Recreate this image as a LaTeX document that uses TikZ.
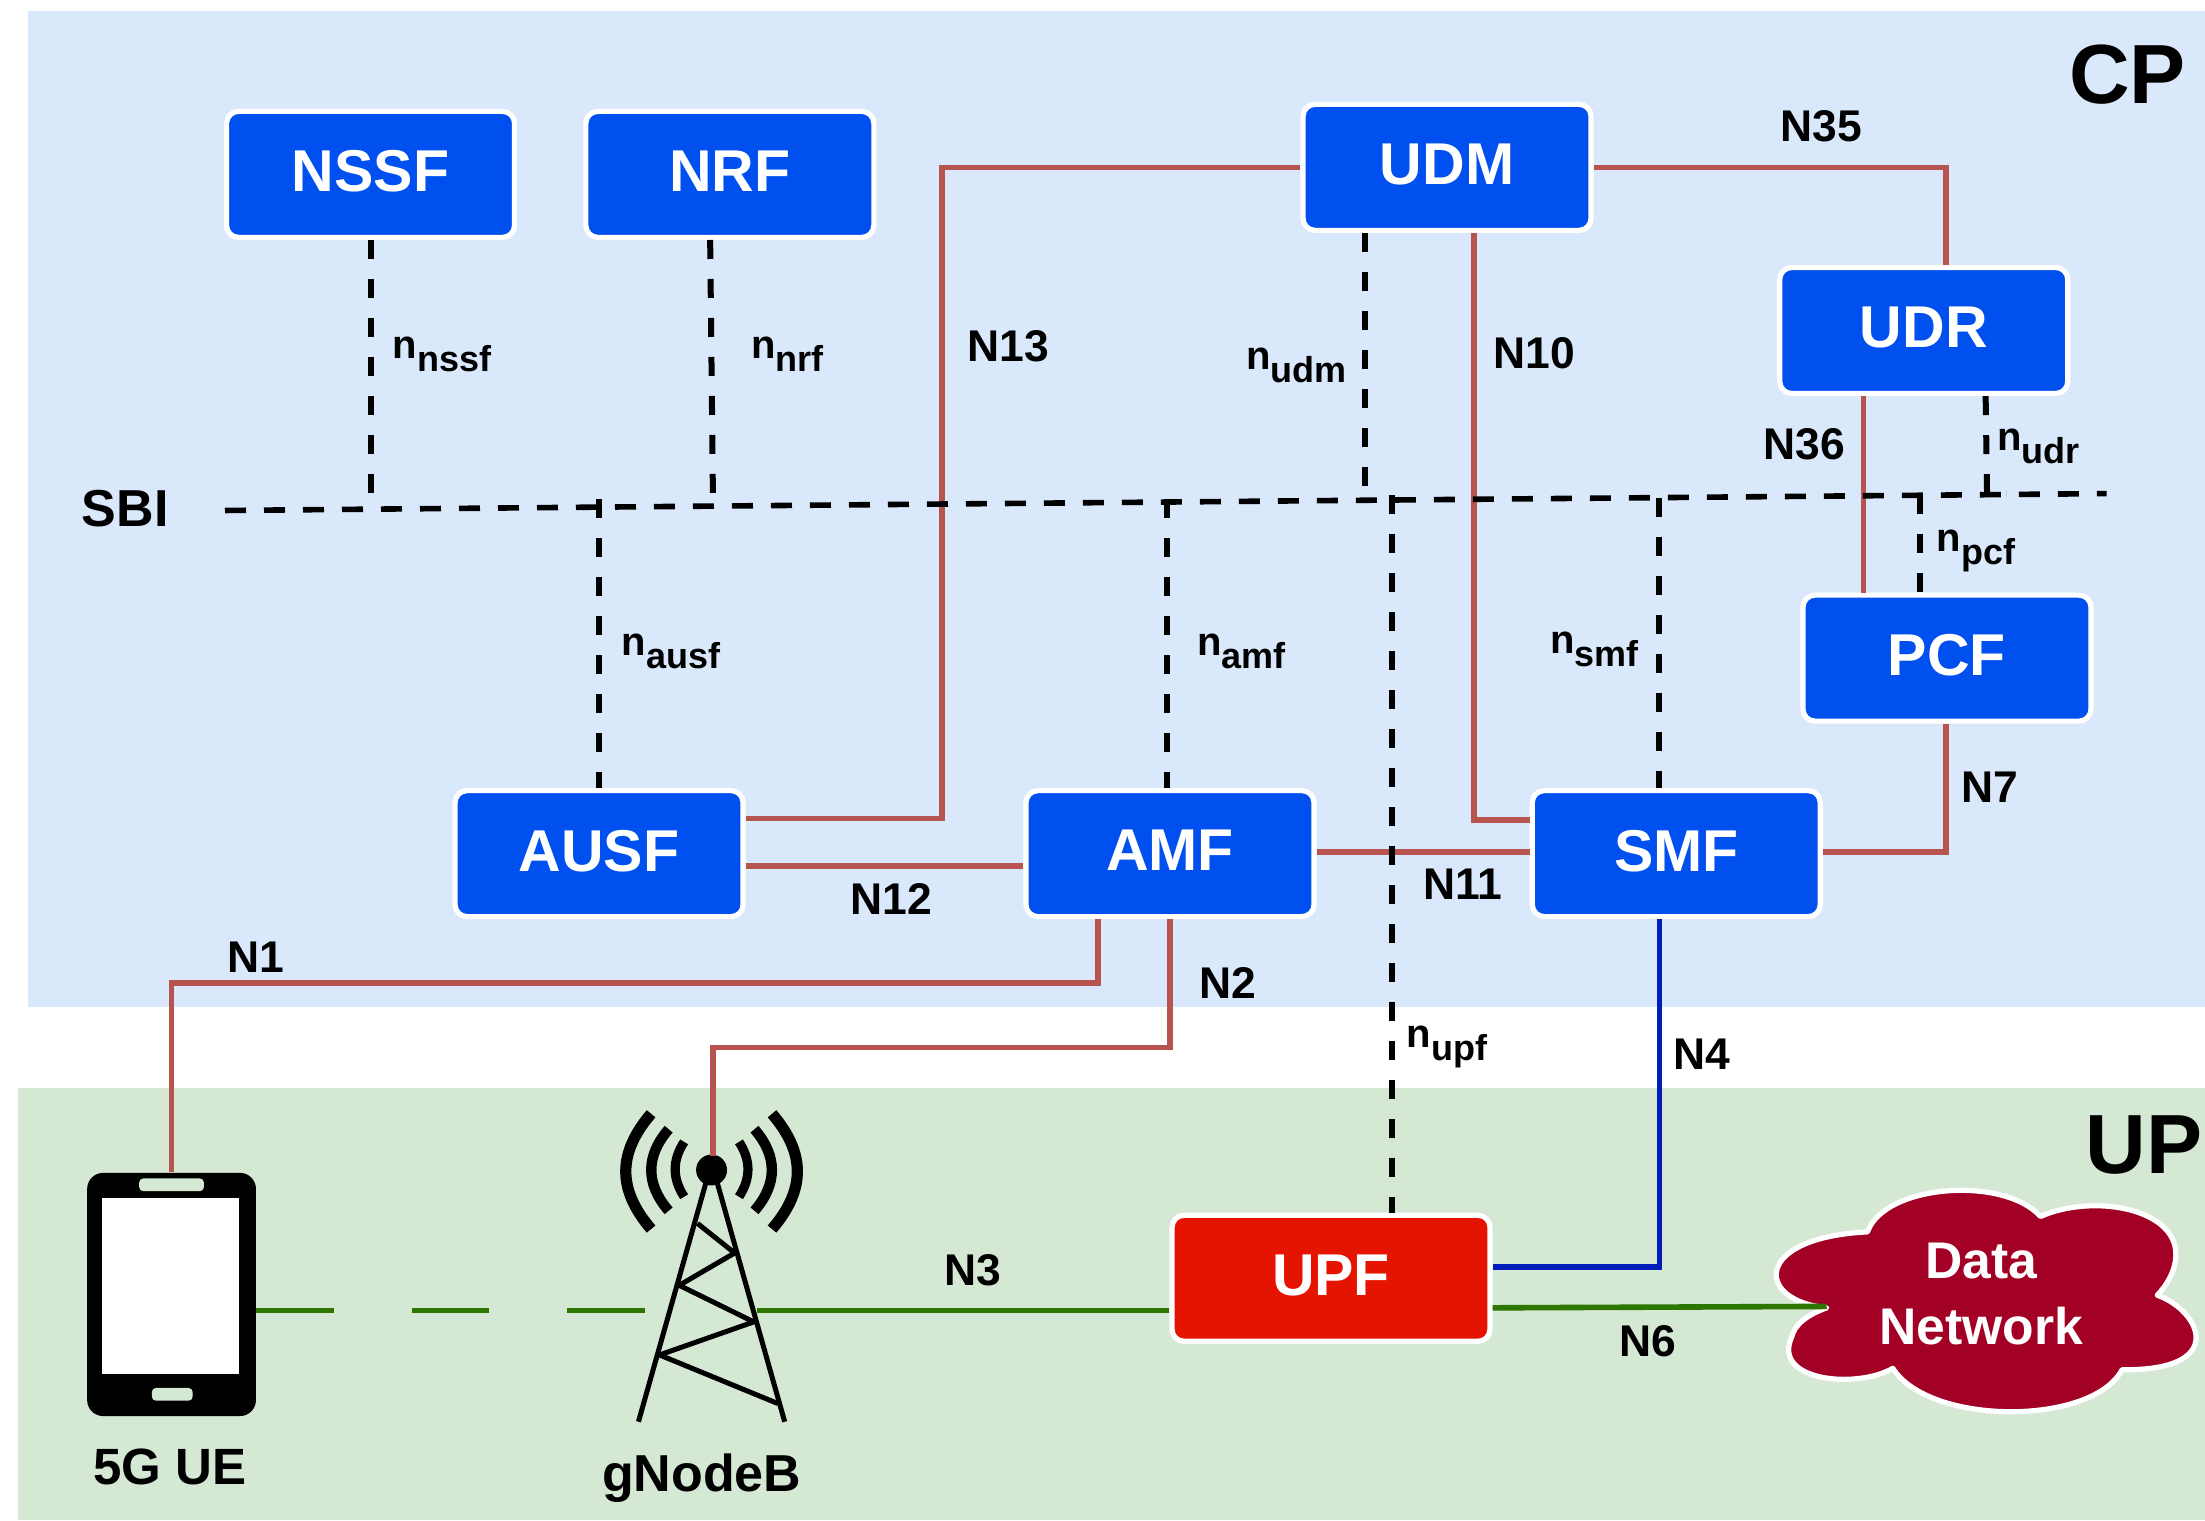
\documentclass[tikz,border=0pt]{standalone}
\usepackage{fontspec}
\setmainfont{Liberation Sans}
\newcommand{\iface}[1]{{\fontsize{20}{20}\selectfont n}\raisebox{-6.5pt}{\fontsize{18}{18}\selectfont #1}}
\definecolor{cpbg}{HTML}{DAE8FC}
\definecolor{upbg}{HTML}{D5E8D4}
\definecolor{nfblue}{HTML}{0050EF}
\definecolor{upfred}{HTML}{E51400}
\definecolor{dnred}{HTML}{A20025}
\definecolor{rline}{HTML}{B85450}
\definecolor{gline}{HTML}{2D7600}
\definecolor{bline}{HTML}{001DBC}
\tikzset{
  nfbox/.style={rectangle,rounded corners=6pt,draw=white,line width=2.6pt,fill=nfblue,text=white,
    minimum width=144pt,minimum height=63pt,inner sep=0pt,text depth=3pt,font=\fontsize{29.5}{29.5}\selectfont\bfseries},
  upfbox/.style={nfbox,fill=upfred,minimum width=159pt},
  rl/.style={draw=rline,line width=2.8pt},
  gl/.style={draw=gline,line width=2.8pt},
  bl/.style={draw=bline,line width=2.8pt},
  sb/.style={draw=black,line width=2.8pt,dash pattern=on 10.5pt off 9pt},
  sbv/.style={draw=black,line width=3pt,dash pattern=on 9.5pt off 10pt},
  lab/.style={inner sep=0pt,font=\fontsize{22.2}{22.2}\selectfont\bfseries},
  ilab/.style={inner sep=0pt,anchor=base west,font=\bfseries},
  biglab/.style={inner sep=0pt,font=\fontsize{42}{42}\selectfont\bfseries},
  caplab/.style={inner sep=0pt,font=\fontsize{25.5}{25.5}\selectfont\bfseries},
  towerline/.style={draw=black,line width=2.5pt},
}
\begin{document}
\begin{tikzpicture}[x=0.70313pt,y=-0.70313pt]
\clip (0,0) rectangle (1568,1080.9);
\fill[white] (0,0) rectangle (1568,1080.9);
\fill[cpbg] (20,8) rectangle (1568,716);
\fill[upbg] (13,774) rectangle (1568,1081);

% network functions
\node[nfbox] (nssf) at (263.5,124) {NSSF};
\node[nfbox] (nrf) at (519,124) {NRF};
\node[nfbox] (udm) at (1029,119) {UDM};
\node[nfbox] (udr) at (1368,235) {UDR};
\node[nfbox] (pcf) at (1384.5,468) {PCF};
\node[nfbox] (ausf) at (426,607) {AUSF};
\node[nfbox] (amf) at (832,607) {AMF};
\node[nfbox] (smf) at (1192,607) {SMF};
\node[upfbox] (upf) at (946.5,909) {UPF};

% phone
\node[rectangle,fill=black,rounded corners=8pt,minimum width=84.4pt,minimum height=121.6pt,inner sep=0pt] (ue) at (122,920.5) {};
\fill[white] (72.5,852) rectangle (170,977);
\fill[upbg,rounded corners=2pt] (99,838) rectangle (145,847);
\fill[upbg,rounded corners=2pt] (108,987) rectangle (137,996);

% tower
\coordinate (apex) at (506,832);
\foreach \s in {-1,1} {
  \draw[black,line width=5.6pt] ({506+\s*43},792) .. controls ({506+\s*67},820) and ({506+\s*67},846) .. ({506+\s*43},874);
  \draw[black,line width=5.2pt] ({506+\s*30.5},803) .. controls ({506+\s*47},822) and ({506+\s*47},842) .. ({506+\s*30.5},861);
  \draw[black,line width=4.6pt] ({506+\s*19.5},812) .. controls ({506+\s*28},825) and ({506+\s*28},838) .. ({506+\s*19.5},851);
}
\fill[black] (apex) circle (11);
\draw[towerline] (502,841) -- (454,1011);
\draw[towerline] (510,841) -- (558,1011);
\draw[towerline,line join=round] (496,870) -- (522.4,891) -- (483,914) -- (536,940) -- (469,963.5) -- (553,998);

% cloud
\draw[draw=white,line width=2.6pt,fill=dnred,line join=round]
  (1328,876) .. controls (1340,842) and (1425,836) .. (1451,865)
  .. controls (1490,848) and (1552,860) .. (1547,896)
  .. controls (1546,905) and (1540,915) .. (1534,921)
  .. controls (1565,932) and (1585,975) .. (1509,974)
  .. controls (1488,1014) and (1372,1014) .. (1346,973)
  .. controls (1320,988) and (1260,982) .. (1274,951)
  .. controls (1276,942) and (1285,935) .. (1299,930)
  .. controls (1248,925) and (1246,880) .. (1328,876) -- cycle;
\node[inner sep=0pt,text=white,align=center,font=\fontsize{25.8}{31}\selectfont\bfseries] (dn) at (1409,920) {Data\\[2pt]Network};
\coordinate (dnleft) at (1299,929);

% SBI bus and service interfaces
\coordinate (sbiL) at (160,363);
\coordinate (sbiR) at (1498,351);
\coordinate (busA) at (426,355);
\coordinate (busB) at (830,355);
\coordinate (busC) at (1180,354);
\coordinate (busD) at (990,352);
\coordinate (busE) at (1365,352);

% reference points
\draw[rl] (ausf.east |- 0,582) -- (670,582) -- (670,119) -- (udm.west |- 0,119);
\draw[rl] (ausf.east |- 0,616) -- (amf.west |- 0,616);
\draw[rl] (amf.east |- 0,606) -- (smf.west |- 0,606);
\draw[rl] (1048,0 |- udm.south) -- (1048,583) -- (smf.west |- 0,583);
\draw[rl] (udm.east |- 0,119) -- (1384,119) -- (1384,0 |- udr.north);
\draw[rl] (1325,0 |- udr.south) -- (1325,0 |- pcf.north);
\draw[rl] (1384,0 |- pcf.south) -- (1384,606) -- (smf.east |- 0,606);
\draw[rl] (781,0 |- amf.south) -- (781,699) -- (122,699) -- (122,0 |- ue.north);
\draw[rl] (832,0 |- amf.south) -- (832,745) -- (507,745) -- (507,822);
\draw[bl] (1180,0 |- smf.south) -- (1180,901) -- (upf.east |- 0,901);
\draw[gl] (538,932) -- (upf.west |- 0,932);
\draw[gl,dash pattern=on 38.7pt off 39pt] (ue.east |- 0,932) -- (460,932);
\draw[gl] (upf.east |- 0,930) -- (dnleft);

\draw[sb] (sbiL) -- (sbiR);
\draw[sbv] (264,0 |- nssf.south) -- (264,357);
\draw[sbv] (505,0 |- nrf.south) -- (507,355);
\draw[sbv] (busA) -- (426,0 |- ausf.north);
\draw[sbv] (busB) -- (830,0 |- amf.north);
\draw[sbv] (971,0 |- udm.south) -- (971,354);
\draw[sbv] (busD) -- (990,0 |- upf.north);
\draw[sbv] (busC) -- (1180,0 |- smf.north);
\draw[sbv] (busE) -- (1365,0 |- pcf.north);
\draw[sbv] (1412,0 |- udr.south) -- (1413,351) -- (1427,351);

% labels
\node[biglab] (cplab) at (1513,53) {CP};
\node[biglab,anchor=west] (uplab) at (1483,814) {UP};
\node[inner sep=0pt,font=\fontsize{26}{26}\selectfont\bfseries] (sbilab) at (89,362) {SBI};
\node[caplab] (uelab) at (121,1043) {5G UE};
\node[caplab,font=\fontsize{26}{26}\selectfont\bfseries] (gnblab) at (499,1051) {gNodeB};
\node[lab] (l35) at (1295,90) {N35};
\node[lab] (l13) at (717,246) {N13};
\node[lab] (l10) at (1091,251) {N10};
\node[lab] (l36) at (1283,316) {N36};
\node[lab] (l7) at (1415,560) {N7};
\node[lab] (l12) at (634,639) {N12};
\node[lab] (l11) at (1040,629) {N11};
\node[lab] (l1) at (182,681) {N1};
\node[lab] (l2) at (873,699) {N2};
\node[lab] (l4) at (1210,750) {N4};
\node[lab] (l3) at (692,903) {N3};
\node[lab] (l6) at (1172,954) {N6};
\node[ilab] (inssf) at (279,255) {\iface{nssf}};
\node[ilab] (inrf) at (534,255) {\iface{nrf}};
\node[ilab] (iudm) at (886,263) {\iface{udm}};
\node[ilab] (iudr) at (1420,320) {\iface{udr}};
\node[ilab] (ipcf) at (1377,392) {\iface{pcf}};
\node[ilab] (ismf) at (1102,465) {\iface{smf}};
\node[ilab] (iamf) at (851,466) {\iface{amf}};
\node[ilab] (iausf) at (442,466) {\iface{ausf}};
\node[ilab] (iupf) at (1000,745) {\iface{upf}};
\end{tikzpicture}
\end{document}
